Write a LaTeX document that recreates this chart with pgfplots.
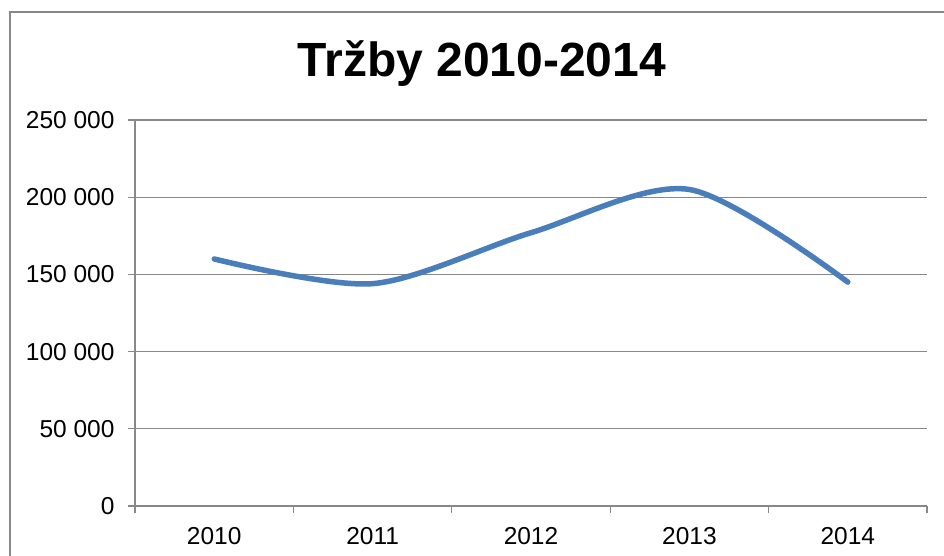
\documentclass[border=0pt]{standalone}
\usepackage{pgfplots}
\pgfplotsset{compat=1.18}
\usepackage{fontspec}
\setmainfont{Liberation Sans}
\definecolor{lineblue}{HTML}{4A7EBB}
\definecolor{gridgray}{HTML}{888888}
\begin{document}
\begin{tikzpicture}
\useasboundingbox (0,0) rectangle (944pt,555pt);
\draw[color=gridgray, line width=1.5pt] (10pt,-20pt) -- (10pt,543pt) -- (970pt,543pt);
\node[anchor=base, font=\fontsize{48}{56}\selectfont\bfseries, inner sep=0pt] at (482pt,478pt) {Tržby 2010-2014};
\begin{axis}[
  at={(135pt,49pt)}, anchor=south west,
  scale only axis, width=792pt, height=386pt,
  xmin=-0.5, xmax=4.5, ymin=0, ymax=250000,
  axis x line=bottom, axis y line=left,
  axis line style={-, color=gridgray, line width=1.3pt},
  xtick={-0.5,0.5,1.5,2.5,3.5,4.5}, xticklabels={,,,,,},
  extra x ticks={0,1,2,3,4},
  extra x tick labels={2010,2011,2012,2013,2014},
  extra x tick style={major tick length=0pt, grid=none},
  ytick={0,50000,100000,150000,200000,250000},
  yticklabels={0,50 000,100 000,150 000,200 000,250 000},
  scaled y ticks=false,
  ymajorgrids,
  grid style={color=gridgray, line width=1.3pt},
  tick style={color=gridgray, line width=1.3pt},
  tick align=outside, major tick length=7pt,
  ticklabel style={font=\fontsize{24.5}{28}\selectfont},
  yticklabel style={xshift=-10pt},
  xticklabel style={yshift=-18pt},
  clip=false,
]
\addplot[color=lineblue, line width=5.5pt, smooth, line cap=round] coordinates {
  (0,160000) (1,144000) (2,177000) (3,205000) (4,145000)
};
\end{axis}
\end{tikzpicture}
\end{document}
